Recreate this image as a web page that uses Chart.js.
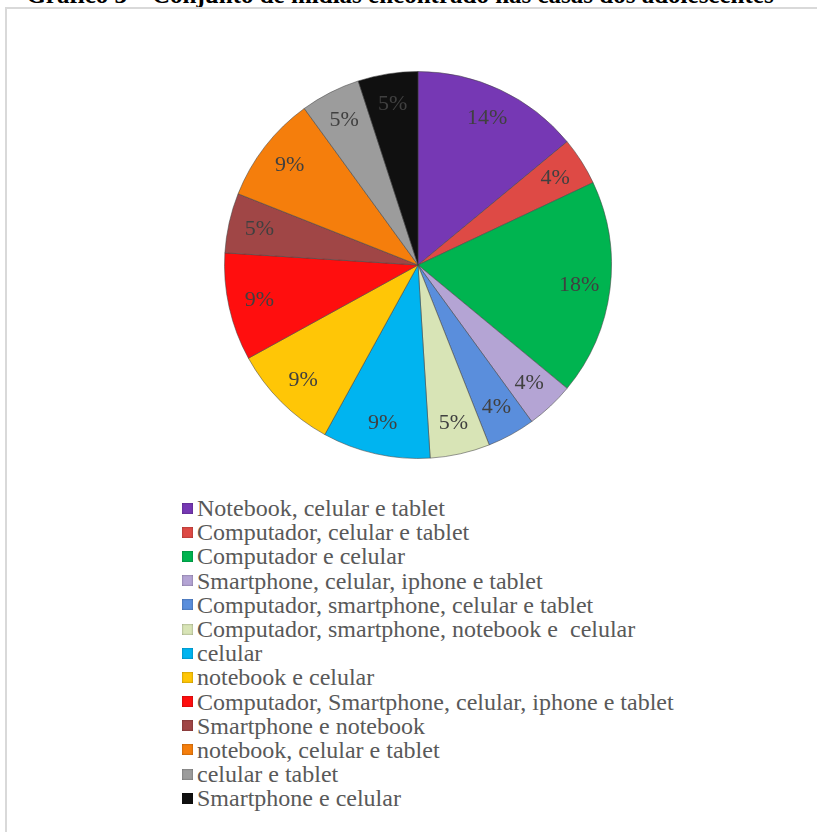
<!DOCTYPE html>
<html lang="pt-BR">
<head>
<meta charset="utf-8">
<title>Gráfico 3 – Conjunto de mídias</title>
<script src="https://cdn.jsdelivr.net/npm/chart.js@4.4.1/dist/chart.umd.min.js"></script>
<style>
  html, body { margin: 0; padding: 0; background: #fff; overflow: hidden; }
  body { width: 817px; height: 832px; position: relative; font-family: "Liberation Serif", "Times New Roman", serif; }
  #titulo {
    position: absolute; left: 0; width: 800px; top: -18px;
    text-align: center; font-weight: bold; font-size: 25px; line-height: 25px; color: #000;
    white-space: nowrap;
  }
  #moldura {
    position: absolute; left: 5px; top: 7px; width: 830px; height: 840px;
    border: 2px solid #d9d9d9;
  }
  #pizza { position: absolute; left: 223px; top: 70px; width: 390px; height: 390px; }
  #legenda { position: absolute; left: 182px; top: 496px; margin: 0; padding: 0; list-style: none; }
  #legenda li {
    height: 24.2px; line-height: 24.2px; font-size: 24px; color: #595959;
    white-space: pre; display: flex; align-items: center;
  }
  #legenda .cx { width: 11px; height: 11px; margin-right: 4px; flex: none; box-shadow: inset 0 0 2px rgba(0,0,0,0.45); }
</style>
</head>
<body>
<div id="titulo">Gráfico 3 – Conjunto de mídias encontrado nas casas dos adolescentes</div>
<div id="moldura"></div>
<div id="pizza"><canvas id="grafico"></canvas></div>
<ul id="legenda"></ul>

<script>
// categorias e percentuais (sentido horário a partir das 12h)
const categorias = [
  'Notebook, celular e tablet',
  'Computador, celular e tablet',
  'Computador e celular',
  'Smartphone, celular, iphone e tablet',
  'Computador, smartphone, celular e tablet',
  'Computador, smartphone, notebook e  celular',
  'celular',
  'notebook e celular',
  'Computador, Smartphone, celular, iphone e tablet',
  'Smartphone e notebook',
  'notebook, celular e tablet',
  'celular e tablet',
  'Smartphone e celular'
];
const percentuais = [14, 4, 18, 4, 4, 5, 9, 9, 9, 5, 9, 5, 5];
const cores = [
  '#7638B4', '#DE4A45', '#00B450', '#B4A4D4', '#5A8EDC', '#D8E4B6', '#00B4F0',
  '#FFC606', '#FF0E0E', '#A04646', '#F57E0C', '#9C9C9C', '#101010'
];

// rótulos de percentual dentro das fatias
const rotulosPizza = {
  id: 'rotulosPizza',
  afterDatasetsDraw(chart) {
    const ctx = chart.ctx;
    const meta = chart.getDatasetMeta(0);
    ctx.save();
    ctx.font = '22px "Liberation Serif", "Times New Roman", serif';
    ctx.fillStyle = '#404040';
    ctx.textAlign = 'center';
    ctx.textBaseline = 'middle';
    meta.data.forEach((arc, i) => {
      const a = (arc.startAngle + arc.endAngle) / 2;
      const r = arc.outerRadius * 0.84;
      ctx.fillText(percentuais[i] + '%', arc.x + Math.cos(a) * r, arc.y + Math.sin(a) * r);
    });
    ctx.restore();
  }
};

// legenda em HTML, um item por linha
const legendaHtml = {
  id: 'legendaHtml',
  afterUpdate(chart) {
    const ul = document.getElementById('legenda');
    ul.innerHTML = '';
    const itens = chart.options.plugins.legend.labels.generateLabels(chart);
    itens.forEach(item => {
      const li = document.createElement('li');
      const cx = document.createElement('span');
      cx.className = 'cx';
      cx.style.background = item.fillStyle;
      li.appendChild(cx);
      li.appendChild(document.createTextNode(item.text));
      ul.appendChild(li);
    });
  }
};

const grafico = new Chart(document.getElementById('grafico'), {
  type: 'pie',
  data: {
    labels: categorias,
    datasets: [{
      data: percentuais,
      backgroundColor: cores,
      borderColor: 'rgba(70,70,70,0.55)',
      borderWidth: 1
    }]
  },
  options: {
    responsive: true,
    maintainAspectRatio: false,
    animation: false,
    layout: { padding: 1 },
    plugins: {
      legend: { display: false },
      tooltip: { enabled: false }
    }
  },
  plugins: [rotulosPizza, legendaHtml]
});
</script>
</body>
</html>
